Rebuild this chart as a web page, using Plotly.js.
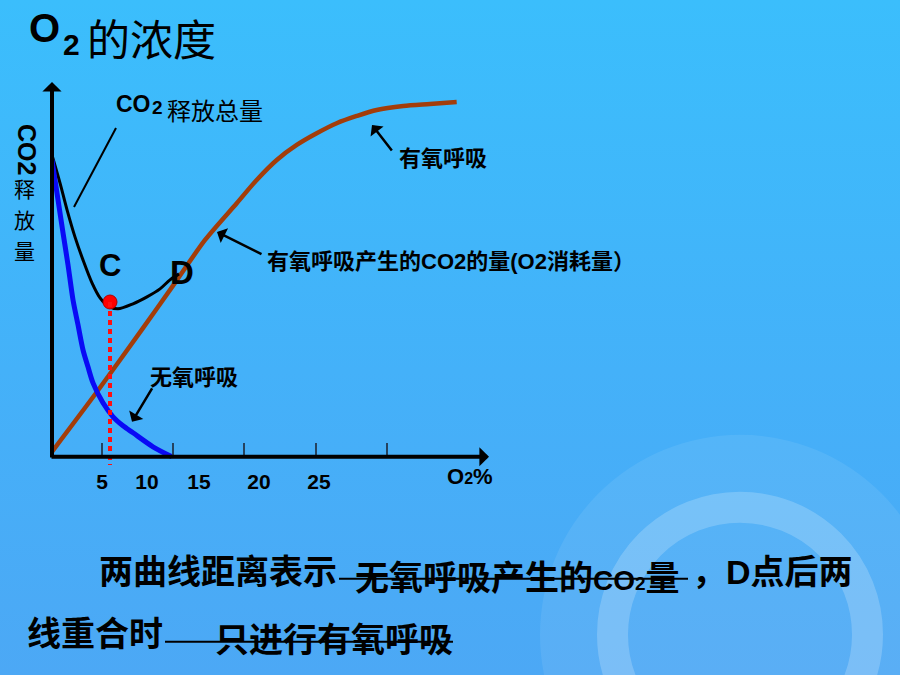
<!DOCTYPE html>
<html><head><meta charset="utf-8">
<script src="https://cdn.plot.ly/plotly-3.0.1.min.js"></script>
<style>
html,body{margin:0;padding:0;width:900px;height:675px;overflow:hidden;
background:linear-gradient(180deg,#3bbefc 0%,#44b1f9 55%,#4ca8f5 100%);}
#chart{width:900px;height:675px;}
</style></head><body><div id="chart"></div>
<script>
// ---- data (x: O2 concentration, y: CO2 release, schematic units) ----
const aerobicX = [0.18, 4.33, 8.45, 11.52, 14.29, 17.21, 19.05, 20.90, 22.74, 24.58, 26.42, 28.27, 30.11, 32.56, 35.02, 37.48];
const aerobicY = [1.35, 17.59, 34.36, 47.08, 58.71, 68.64, 74.95, 80.36, 84.42, 87.58, 90.29, 92.26, 93.89, 94.97, 95.51, 96.05];
const totalX = [0.18, 0.92, 1.57, 2.30, 3.04, 3.87, 4.61, 5.35, 6.27, 7.65, 8.94, 10.14, 11.06, 11.89];
const totalY = [81.71, 74.13, 66.83, 59.52, 53.30, 47.08, 43.02, 40.85, 40.04, 41.40, 43.29, 45.45, 47.89, 49.51];
const anaerobicX = [0.18, 0.74, 1.20, 1.66, 2.12, 2.58, 3.04, 3.50, 3.96, 4.88, 5.81, 6.73, 7.65, 9.49, 11.24];
const anaerobicY = [80.36, 69.53, 60.61, 51.95, 42.48, 35.71, 28.95, 24.35, 20.02, 14.61, 10.82, 8.39, 6.49, 2.71, 0];
const pointCX = [5.53];
const pointCY = [41.9];
const dropLineY = [41.9, -2.2];
const tickMarkVals = [4.79, 11.34, 17.88, 24.52, 31.06];
const tickLabelVals = [4.79, 8.94, 13.73, 19.26, 24.79];
const tickLabels = ['5', '10', '15', '20', '25'];

// ---- geometry ----
const L = 50, W = 440, T = 80;
const xRange = [0, 40.55];
const yRange = [-2.5, 102];
const pxPerY = 3.696;
const H = (yRange[1] - yRange[0]) * pxPerY;
const B = 675 - T - H;
const PX = px => (px - L) / W;
const PY = py => (T + H - py) / H;
const axisPos = (0 - yRange[0]) / (yRange[1] - yRange[0]);

const CJK = '"Noto Sans CJK SC", "Noto Sans CJK JP", sans-serif';
const LAT = '"Liberation Sans", Arial, sans-serif';
const SL = 'font-family:Liberation Sans;font-weight:bold';

function txt(text, px, py, size, opts) {
  const o = Object.assign({family: CJK, weight: 'normal', anchor: 'left'}, opts || {});
  const a = {xref: 'paper', yref: 'paper', x: PX(px), y: PY(py), text: text, showarrow: false,
    xanchor: o.anchor, yanchor: 'middle', font: {family: o.family, size: size, color: '#000', weight: o.weight}};
  if (o.angle !== undefined) a.textangle = o.angle;
  return a;
}
function arrow(tipX, tipY, tailX, tailY, w, size, head) {
  return {xref: 'paper', yref: 'paper', x: PX(tipX), y: PY(tipY), ax: tailX - tipX, ay: tailY - tipY,
    text: '', showarrow: true, arrowhead: head || 1, arrowsize: size, arrowwidth: w, arrowcolor: '#000', standoff: 0};
}

const traces = [
  {x: aerobicX, y: aerobicY, mode: 'lines', line: {color: '#a33d0a', width: 4.5, shape: 'spline', smoothing: 0.8}, hoverinfo: 'skip'},
  {x: totalX, y: totalY, mode: 'lines', line: {color: '#000', width: 3, shape: 'spline', smoothing: 0.8}, hoverinfo: 'skip'},
  {x: anaerobicX, y: anaerobicY, mode: 'lines', line: {color: '#0a0af5', width: 5, shape: 'spline', smoothing: 0.8}, hoverinfo: 'skip'},
  {x: [pointCX[0], pointCX[0]], y: dropLineY, xaxis: 'x2', mode: 'lines', line: {color: '#ff1010', width: 4, dash: '5px,4px'}, hoverinfo: 'skip'},
  {x: pointCX, y: pointCY, mode: 'markers', marker: {color: '#ff0000', size: 14, line: {color: '#b00000', width: 1}}, hoverinfo: 'skip', cliponaxis: false}
];

const annotations = [
  // title
  txt('O', 27, 27.5, 40, {family: LAT, weight: 'bold'}),
  txt('2', 61, 44, 30, {family: LAT, weight: 'bold'}),
  txt('的浓度', 85, 36.5, 43),
  // y axis label
  txt('CO2', 27, 149, 25, {family: LAT, weight: 'bold', anchor: 'center', angle: 90}),
  txt('释', 24, 188.5, 21, {anchor: 'center'}),
  txt('放', 24, 219.5, 21, {anchor: 'center'}),
  txt('量', 24, 250.5, 21, {anchor: 'center'}),
  // curve labels
  txt('CO', 114, 104.5, 23, {family: LAT, weight: 'bold'}),
  txt('2', 150, 107.5, 19, {family: LAT, weight: 'bold'}),
  txt('释放总量', 165, 109.5, 24),
  txt('有氧呼吸', 397, 156, 22, {weight: 'bold'}),
  txt('有氧呼吸产生的<span style="' + SL + '">CO2</span>的量<span style="' + SL + '">(O2</span>消耗量）', 265, 259, 22, {weight: 'bold'}),
  txt('无氧呼吸', 148, 375, 22, {weight: 'bold'}),
  txt('C', 110, 266, 31, {family: LAT, weight: 'bold', anchor: 'center'}),
  txt('D', 182, 273, 33, {family: LAT, weight: 'bold', anchor: 'center'}),
  txt('O<span style="font-size:16px">2</span>%', 445, 477, 22, {family: LAT, weight: 'bold'}),
  // bottom sentence
  txt('两曲线距离表示', 97, 570, 34, {weight: 'bold'}),
  txt('无氧呼吸产生的<span style="' + SL + ';font-size:28px">CO</span><span style="' + SL + ';font-size:19px">2</span>量', 353, 576, 34, {weight: 'bold'}),
  txt('，<span style="' + SL + '">D</span>点后两', 690, 570, 34, {weight: 'bold'}),
  txt('线重合时', 25, 632, 34, {weight: 'bold'}),
  txt('只进行有氧呼吸', 213, 638, 34, {weight: 'bold'}),
  // arrows
  arrow(489, 457, 50, 457, 4, 0.8, 1),
  arrow(52, 82, 52, 459, 4, 0.8, 1),
  arrow(372, 125, 393, 152, 2.5, 1.1, 1),
  arrow(217, 232, 263, 255, 2.5, 1.1, 1),
  arrow(132, 422, 153, 387, 2.5, 1.1, 1)
];

const cx = 740, cy = 635;
const shapes = [
  {type: 'circle', xref: 'paper', yref: 'paper', layer: 'below',
   x0: PX(cx - 200), x1: PX(cx + 200), y0: PY(cy + 200), y1: PY(cy - 200),
   fillcolor: 'rgba(255,255,255,0.08)', line: {width: 0}},
  {type: 'circle', xref: 'paper', yref: 'paper', layer: 'below',
   x0: PX(cx - 127.5), x1: PX(cx + 127.5), y0: PY(cy + 127.5), y1: PY(cy - 127.5),
   fillcolor: 'rgba(0,0,0,0)', line: {width: 31, color: 'rgba(255,255,255,0.2)'}},
  {type: 'line', xref: 'paper', yref: 'paper', x0: PX(74), y0: PY(207), x1: PX(116), y1: PY(128), line: {color: '#000', width: 2}},
  {type: 'line', xref: 'paper', yref: 'paper', x0: PX(339), y0: PY(579), x1: PX(688), y1: PY(579), line: {color: '#000', width: 2}},
  {type: 'line', xref: 'paper', yref: 'paper', x0: PX(165), y0: PY(642), x1: PX(453), y1: PY(642), line: {color: '#000', width: 2}}
];

const layout = {
  width: 900, height: 675,
  margin: {l: L, r: 900 - L - W, t: T, b: B, pad: 0},
  paper_bgcolor: 'rgba(0,0,0,0)', plot_bgcolor: 'rgba(0,0,0,0)',
  showlegend: false,
  xaxis: {range: xRange, anchor: 'free', position: axisPos, showline: false, showgrid: false, zeroline: false,
    tickmode: 'array', tickvals: tickMarkVals, showticklabels: false,
    ticks: 'inside', ticklen: 14, tickwidth: 2, tickcolor: '#25435f', fixedrange: true},
  xaxis2: {range: xRange, overlaying: 'x', anchor: 'free', position: axisPos, side: 'bottom',
    showline: false, showgrid: false, zeroline: false,
    tickmode: 'array', tickvals: tickLabelVals, ticktext: tickLabels, ticks: '',
    ticklabelstandoff: 10,
    tickfont: {family: LAT, size: 21, color: '#000', weight: 'bold'}, fixedrange: true},
  yaxis: {range: yRange, showline: false, showgrid: false, zeroline: false, showticklabels: false, ticks: '', fixedrange: true},
  annotations: annotations,
  shapes: shapes
};

Plotly.newPlot('chart', traces, layout, {displayModeBar: false, staticPlot: true});
</script></body></html>
